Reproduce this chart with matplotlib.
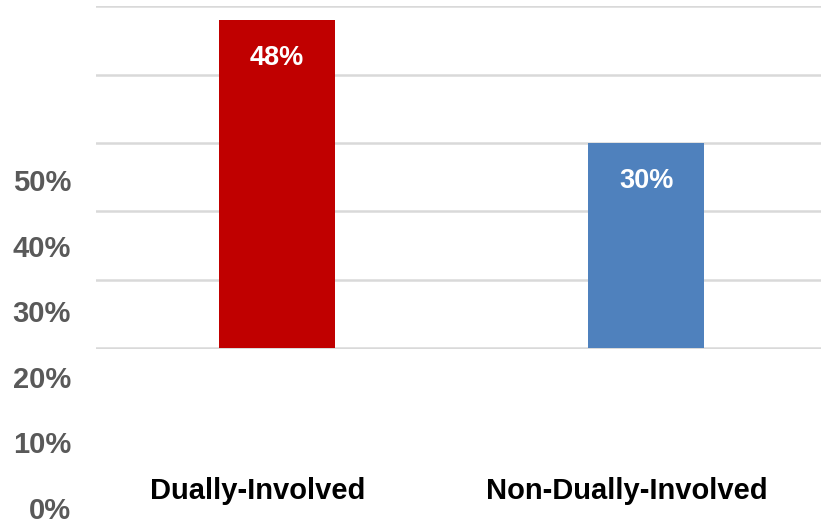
# importing the Libraries
import matplotlib.pyplot as plt
from matplotlib.transforms import ScaledTranslation

plt.rcParams['font.family'] = ['Liberation Sans', 'DejaVu Sans']

# data
groups = ['Dually-Involved', 'Non-Dually-Involved']
shares = [0.48, 0.30]
bar_colors = ['#C00000', '#4F81BD']
tick_values = [0.0, 0.1, 0.2, 0.3, 0.4, 0.5]
tick_labels = ['0%', '10%', '20%', '30%', '40%', '50%']

fig = plt.figure(figsize=(8.21, 5.23), dpi=100)

# main plotting area with the gridlines and bars
ax = fig.add_axes([96 / 821, (523 - 349.3) / 523, 725 / 821, 343 / 523])
ax.bar(range(len(groups)), shares, width=0.314, color=bar_colors, zorder=2)
ax.set_xlim(-0.4905, 1.474)
ax.set_ylim(-0.0015, 0.5)
ax.set_yticks(tick_values)
ax.yaxis.grid(True, color='#D9D9D9', linewidth=1.8, zorder=0)
ax.tick_params(left=False, bottom=False, labelleft=False, labelbottom=False)
for side in ax.spines.values():
    side.set_visible(False)

# value labels inside the bars
for i, v in enumerate(shares):
    ax.text(i, v - 0.055, f'{v:.0%}', color='white', fontsize=19.5,
            fontweight='bold', ha='center', va='center', zorder=3)

# category labels below the bars, shifted a little left as in the original
shift = ScaledTranslation(-0.19, 0, fig.dpi_scale_trans)
for i, name in enumerate(groups):
    ax.text(i, -0.209, name, fontsize=21, fontweight='bold', color='black',
            ha='center', va='center', clip_on=False,
            transform=ax.transData + shift)

# the percentage axis sits lower than the gridlines in the original
ax2 = fig.add_axes([96 / 821, (523 - 508) / 523, 0.01, 328 / 523])
ax2.set_ylim(0, 0.5)
ax2.set_yticks(tick_values)
ax2.set_yticklabels(tick_labels)
ax2.tick_params(left=False, bottom=False, labelbottom=False, pad=14.5)
for label in ax2.get_yticklabels():
    label.set_fontsize(21)
    label.set_fontweight('bold')
    label.set_color('#595959')
ax2.patch.set_visible(False)
for side in ax2.spines.values():
    side.set_visible(False)

fig.savefig('out.png', dpi=100)
